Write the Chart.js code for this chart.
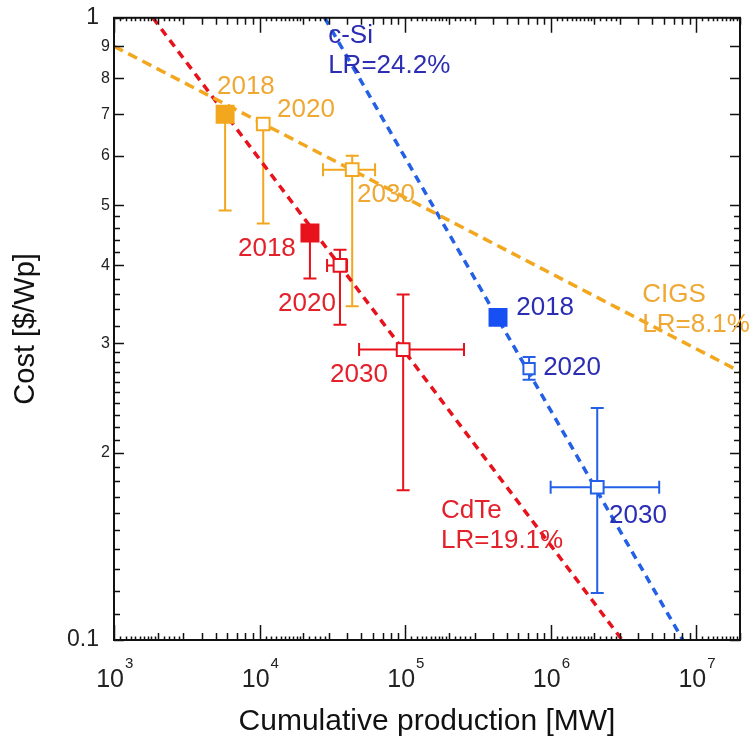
<!DOCTYPE html>
<html lang="en">
<head>
<meta charset="UTF-8">
<title>Learning curves</title>
<style>
  body { margin: 0; background: #fff; }
  #wrap { width: 749px; height: 742px; }
</style>
</head>
<body>
<div id="wrap"><canvas id="myChart" width="749" height="742"></canvas></div>

<script src="https://cdn.jsdelivr.net/npm/chart.js"></script>
<script>
    const FONT = '"Liberation Sans", Arial, sans-serif';

    // CIGS
    const cigsX = [5800, 10600, 43300];
    const cigsY = [0.70, 0.675, 0.57];
    const cigsYLow = [0.49, 0.467, 0.344];
    const cigsYHigh = [0.72, 0.69, 0.60];
    const cigsXLow = [null, null, 27300];
    const cigsXHigh = [null, null, 62200];
    const cigsFitX = [1000, 20000000];
    const cigsFitY = [0.90, 0.27];

    // CdTe
    const cdteX = [22200, 35700, 97000];
    const cdteY = [0.451, 0.40, 0.293];
    const cdteYLow = [0.381, 0.321, 0.174];
    const cdteYHigh = [0.46, 0.424, 0.359];
    const cdteXLow = [null, 29100, 48300];
    const cdteXHigh = [null, 39900, 254000];
    const cdteFitX = [1850, 3100000];
    const cdteFitY = [1.0, 0.1];

    // c-Si
    const csiX = [435000, 711000, 2090000];
    const csiY = [0.33, 0.273, 0.176];
    const csiYLow = [null, 0.262, 0.119];
    const csiYHigh = [null, 0.285, 0.236];
    const csiXLow = [null, null, 1000000];
    const csiXHigh = [null, null, 5570000];
    const csiFitX = [28000, 8100000];
    const csiFitY = [1.0, 0.1];

    const years = ['2018', '2020', '2030'];

    // axis ticks
    const yLabelValues = [0.1, 0.2, 0.3, 0.4, 0.5, 0.6, 0.7, 0.8, 0.9, 1];
    const yLabelText = ['0.1', '2', '3', '4', '5', '6', '7', '8', '9', '1'];
    const xLabelValues = [1e3, 1e4, 1e5, 1e6, 1e7];
    const xLabelExp = ['3', '4', '5', '6', '7'];

    const orange = '#F2A71E', orangeText = '#EFA833';
    const red = '#E8121C', redText = '#E3212B';
    const blue = '#2360E6', blueFill = '#1650F2', blueText = '#2B2DB3';

    const series = [
        {x: cigsX, y: cigsY, yLow: cigsYLow, yHigh: cigsYHigh, xLow: cigsXLow, xHigh: cigsXHigh, color: orange},
        {x: cdteX, y: cdteY, yLow: cdteYLow, yHigh: cdteYHigh, xLow: cdteXLow, xHigh: cdteXHigh, color: red},
        {x: csiX, y: csiY, yLow: csiYLow, yHigh: csiYHigh, xLow: csiXLow, xHigh: csiXHigh, color: blue}
    ];

    // text annotations, anchored left / middle in data coordinates
    const notes = [
        {text: 'c-Si', x: 29600, y: 0.936, color: blueText},
        {text: 'LR=24.2%', x: 29600, y: 0.838, color: blueText},
        {text: 'CIGS', x: 4260000, y: 0.359, color: orangeText},
        {text: 'LR=8.1%', x: 4260000, y: 0.3215, color: orangeText},
        {text: 'CdTe', x: 176600, y: 0.1614, color: redText},
        {text: 'LR=19.1%', x: 176600, y: 0.1445, color: redText},
        {text: years[0], x: 5100, y: 0.775, color: orangeText},
        {text: years[1], x: 13200, y: 0.712, color: orangeText},
        {text: years[2], x: 46800, y: 0.519, color: orangeText},
        {text: years[0], x: 7110, y: 0.4253, color: redText},
        {text: years[1], x: 13400, y: 0.3473, color: redText},
        {text: years[2], x: 30500, y: 0.2665, color: redText},
        {text: years[0], x: 580000, y: 0.342, color: blueText},
        {text: years[1], x: 888000, y: 0.2734, color: blueText},
        {text: years[2], x: 2520000, y: 0.1585, color: blueText}
    ];

    function pts(xs, ys) {
        return xs.map((v, i) => ({x: v, y: ys[i]}));
    }

    // y ticks: 0.01 steps to 0.3, 0.02 steps to 0.5, then 0.1 steps
    const yTickValues = [];
    for (let i = 10; i <= 30; i++) yTickValues.push(i / 100);
    for (let i = 32; i <= 50; i += 2) yTickValues.push(i / 100);
    for (let i = 6; i <= 10; i++) yTickValues.push(i / 10);

    const extras = {
        id: 'extras',
        beforeDatasetsDraw(chart) {
            const {ctx} = chart;
            const xs = chart.scales.x, ys = chart.scales.y;
            ctx.save();
            ctx.lineWidth = 2;
            const cap = 6.5;
            series.forEach(s => {
                ctx.strokeStyle = s.color;
                s.x.forEach((xv, i) => {
                    const px = xs.getPixelForValue(xv);
                    const py = ys.getPixelForValue(s.y[i]);
                    ctx.beginPath();
                    if (s.yLow[i] != null) {
                        const y1 = ys.getPixelForValue(s.yLow[i]);
                        const y2 = ys.getPixelForValue(s.yHigh[i]);
                        ctx.moveTo(px, y1); ctx.lineTo(px, y2);
                        ctx.moveTo(px - cap, y1); ctx.lineTo(px + cap, y1);
                        ctx.moveTo(px - cap, y2); ctx.lineTo(px + cap, y2);
                    }
                    if (s.xLow[i] != null) {
                        const x1 = xs.getPixelForValue(s.xLow[i]);
                        const x2 = xs.getPixelForValue(s.xHigh[i]);
                        ctx.moveTo(x1, py); ctx.lineTo(x2, py);
                        ctx.moveTo(x1, py - cap); ctx.lineTo(x1, py + cap);
                        ctx.moveTo(x2, py - cap); ctx.lineTo(x2, py + cap);
                    }
                    ctx.stroke();
                });
            });
            ctx.restore();
        },
        afterDraw(chart) {
            const {ctx, chartArea: a} = chart;
            const xs = chart.scales.x, ys = chart.scales.y;
            ctx.save();

            // tick marks, pointing inward on all four sides
            ctx.strokeStyle = '#111';
            ctx.lineWidth = 1.5;
            ctx.beginPath();
            yTickValues.forEach(v => {
                const len = yLabelValues.includes(v) ? 10 : 6;
                const py = Math.round(ys.getPixelForValue(v)) + 0.5;
                ctx.moveTo(a.left, py); ctx.lineTo(a.left + len, py);
                ctx.moveTo(a.right, py); ctx.lineTo(a.right - len, py);
            });
            for (let n = 3; n <= 7; n++) {
                const steps = [];
                for (let k = 1; k <= 9; k++) steps.push([k, k === 1 ? 15 : 7]);
                for (let k = 11; k <= 19; k++) steps.push([k / 10, 3.5]);
                for (let k = 22; k <= 28; k += 2) steps.push([k / 10, 3.5]);
                steps.forEach(([k, len]) => {
                    const v = k * Math.pow(10, n);
                    if (v > 2e7) return;
                    const px = Math.round(xs.getPixelForValue(v)) + 0.5;
                    ctx.moveTo(px, a.bottom); ctx.lineTo(px, a.bottom - len);
                    ctx.moveTo(px, a.top); ctx.lineTo(px, a.top + len);
                });
            }
            ctx.stroke();

            // frame
            ctx.lineWidth = 2;
            ctx.strokeRect(a.left, a.top, a.right - a.left, a.bottom - a.top);

            // x tick labels 10^n
            ctx.fillStyle = '#222';
            ctx.textBaseline = 'alphabetic';
            xLabelValues.forEach((v, i) => {
                const px = xs.getPixelForValue(v);
                ctx.font = '25px ' + FONT;
                ctx.textAlign = 'right';
                ctx.fillText('10', px + 10, 687);
                ctx.font = '15px ' + FONT;
                ctx.textAlign = 'left';
                ctx.fillText(xLabelExp[i], px + 11, 668);
            });

            // annotations
            ctx.font = '26px ' + FONT;
            ctx.textAlign = 'left';
            ctx.textBaseline = 'middle';
            notes.forEach(n => {
                ctx.fillStyle = n.color;
                ctx.fillText(n.text, xs.getPixelForValue(n.x), ys.getPixelForValue(n.y));
            });
            ctx.restore();
        }
    };

    const ctx = document.getElementById('myChart');

    new Chart(ctx, {
        type: 'scatter',
        data: {
            datasets: [
                {
                    label: 'CIGS',
                    data: pts(cigsX, cigsY),
                    pointStyle: 'rect',
                    pointRadius: [12, 9, 9],
                    pointBackgroundColor: [orange, '#fff', '#fff'],
                    pointBorderColor: orange,
                    pointBorderWidth: 2
                },
                {
                    label: 'CdTe',
                    data: pts(cdteX, cdteY),
                    pointStyle: 'rect',
                    pointRadius: [12, 9, 9],
                    pointBackgroundColor: [red, '#fff', '#fff'],
                    pointBorderColor: red,
                    pointBorderWidth: 2
                },
                {
                    label: 'c-Si',
                    data: pts(csiX, csiY),
                    pointStyle: 'rect',
                    pointRadius: [12, 8, 9],
                    pointBackgroundColor: [blueFill, '#fff', '#fff'],
                    pointBorderColor: [blueFill, blue, blue],
                    pointBorderWidth: 2
                },
                {
                    label: 'CIGS LR=8.1%',
                    data: pts(cigsFitX, cigsFitY),
                    showLine: true,
                    borderColor: orange,
                    borderWidth: 3.5,
                    borderDash: [10, 6],
                    pointRadius: 0
                },
                {
                    label: 'CdTe LR=19.1%',
                    data: pts(cdteFitX, cdteFitY),
                    showLine: true,
                    borderColor: red,
                    borderWidth: 3.5,
                    borderDash: [8, 6],
                    pointRadius: 0
                },
                {
                    label: 'c-Si LR=24.2%',
                    data: pts(csiFitX, csiFitY),
                    showLine: true,
                    borderColor: blue,
                    borderWidth: 3.5,
                    borderDash: [8, 6],
                    pointRadius: 0
                }
            ]
        },
        options: {
            responsive: false,
            animation: false,
            layout: {autoPadding: false, padding: {top: 15, right: 9, left: 0, bottom: 0}},
            plugins: {
                legend: {display: false},
                tooltip: {enabled: false}
            },
            scales: {
                x: {
                    type: 'logarithmic',
                    min: 1000,
                    max: 20000000,
                    grid: {display: false, drawTicks: false},
                    border: {display: false},
                    ticks: {display: false},
                    title: {
                        display: true,
                        text: 'Cumulative production [MW]',
                        color: '#111',
                        font: {family: FONT, size: 30},
                        padding: {top: 0, bottom: 2}
                    },
                    afterFit: s => { s.height = 102; }
                },
                y: {
                    type: 'logarithmic',
                    min: 0.1,
                    max: 1,
                    grid: {display: false, drawTicks: false},
                    border: {display: false},
                    afterBuildTicks: s => { s.ticks = yTickValues.map(v => ({value: v})); },
                    ticks: {
                        autoSkip: false,
                        padding: 4,
                        color: '#222',
                        font: c => ({family: FONT, size: (c.tick && (c.tick.value === 1 || c.tick.value === 0.1)) ? 23 : 16}),
                        callback: v => {
                            const i = yLabelValues.indexOf(v);
                            if (i < 0) return '';
                            return (v === 1 || v === 0.1) ? yLabelText[i] + ' \u2009' : yLabelText[i];
                        }
                    },
                    title: {
                        display: true,
                        text: 'Cost [$/Wp]',
                        color: '#111',
                        font: {family: FONT, size: 29},
                        padding: {top: 9, bottom: 0}
                    },
                    afterFit: s => { s.width = 114; }
                }
            }
        },
        plugins: [extras]
    });
</script>
</body>
</html>
